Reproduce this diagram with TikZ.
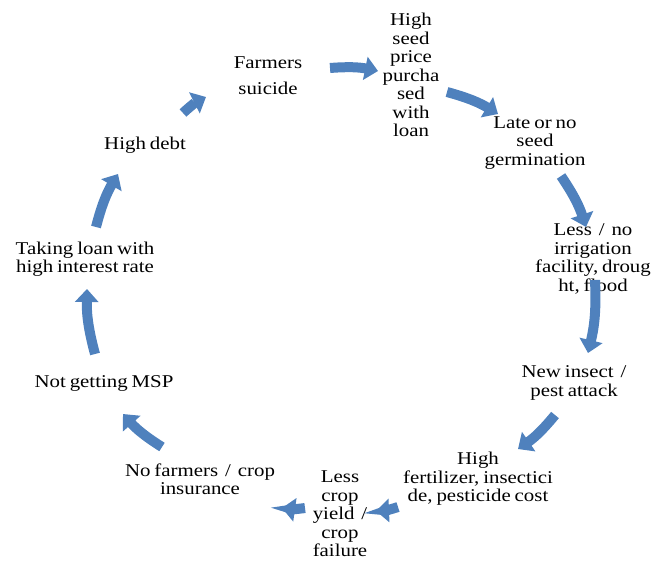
\documentclass[tikz,border=0pt]{standalone}
\usepackage{fontspec}
\setmainfont{Liberation Serif}[FakeStretch=1.16,WordSpace=0.75]
\usetikzlibrary{arrows.meta}
\definecolor{arrowblue}{HTML}{4F81BD}
\begin{document}
\begin{tikzpicture}[x=1pt,y=-1pt,
  lbl/.style={align=center,inner sep=0pt,font=\fontsize{18}{18.5}\selectfont},
  cyc/.style={draw=arrowblue,line width=10pt,-{Triangle[length=13pt,width=23pt]},bend left=8},
]
\useasboundingbox (0,0) rectangle (652,560);
% labels
\node[lbl] (fs) at (268,76) {Farmers\\[7.5pt]suicide};
\node[lbl] (hs) at (411,75) {High\\seed\\price\\purcha\\sed\\with\\loan};
\node[lbl] (lg) at (535,143) {Late or no\\seed\\germination};
\node[lbl] (li) at (593,259) {Less \,/\, no\\irrigation\\facility, droug\\ht, flood};
\node[lbl] (ni) at (574,383) {New insect \,/\\pest attack};
\node[lbl] (hf) at (478,479) {High\\fertilizer, insectici\\de, pesticide cost};
\node[lbl] (lc) at (340,514) {Less\\crop\\yield \,/\\crop\\failure};
\node[lbl] (nf) at (200,479) {No farmers \,/\, crop\\insurance};
\node[lbl] (ng) at (104,383) {Not getting MSP};
\node[lbl] (tl) at (85,259) {Taking loan with\\high interest rate};
\node[lbl] (hd) at (145,145) {High debt};
% arrow end points
\coordinate (s1) at (330,68);  \coordinate (e1) at (378,71);
\coordinate (s2) at (447,92);  \coordinate (e2) at (498,114);
\coordinate (s3) at (561,176); \coordinate (e3) at (586,227);
\coordinate (s4) at (595,280); \coordinate (e4) at (588,353);
\coordinate (s5) at (555,415); \coordinate (e5) at (518,449);
\coordinate (s6) at (398,507); \coordinate (e6) at (376,511);
\coordinate (s7) at (305,508); \coordinate (e7) at (282,508);
\coordinate (s8) at (162,447); \coordinate (e8) at (123,414);
\coordinate (s9) at (95,354);  \coordinate (e9) at (87,289);
\coordinate (s10) at (96,227); \coordinate (e10) at (118,174);
\coordinate (s11) at (183,113); \coordinate (e11) at (206,97);
\foreach \i in {1,...,11} {\draw[cyc] (s\i) to (e\i);}
\end{tikzpicture}
\end{document}
